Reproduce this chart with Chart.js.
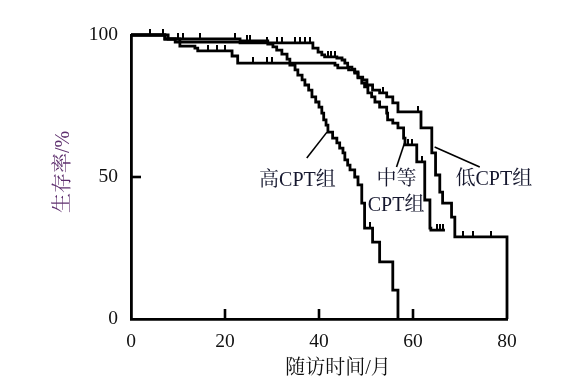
<!DOCTYPE html>
<html><head><meta charset="utf-8">
<script src="https://cdn.jsdelivr.net/npm/chart.js@4.4.0/dist/chart.umd.min.js"></script>
<style>html,body{margin:0;padding:0;background:#fff;}#wrap{width:584px;height:383px;}</style>
</head><body><div id="wrap"><canvas id="c" width="584" height="383"></canvas></div>
<script>
// ---- data (months, survival %) ----
const xTicks = [0, 20, 40, 60, 80];
const yTicks = [0, 50, 100];
const xTitle = '随访时间/月';
const yTitle = '生存率/%';

const highCPT = [[0,100],[7.9,98.6],[23.2,97.9],[29.1,96.8],[30.2,95.8],[31.0,94.7],[32.1,93.3],[33.2,91.5],[33.8,89.4],[34.9,87.7],[35.5,85.9],[36.4,84.2],[37.0,82.4],[37.8,80.6],[38.5,78.2],[39.3,76.4],[40.0,74.6],[40.6,72.5],[41.0,70.1],[41.5,68.3],[41.9,65.8],[42.9,63.7],[43.8,62.0],[44.4,60.2],[45.1,58.5],[45.5,56.0],[46.1,54.2],[46.6,52.5],[47.6,50.0],[48.3,47.2],[49.1,40.8],[49.7,32.0],[51.4,27.1],[52.9,20.1],[55.7,10.2],[56.8,0]];
const midCPT = [[0,100],[7.2,98.6],[10.4,96.1],[13.6,95.4],[14.2,94.4],[21.5,92.6],[22.7,90.1],[43.4,89.4],[44.0,88.4],[46.3,87.7],[47.6,86.6],[48.3,84.9],[49.1,83.1],[49.7,81.7],[50.4,79.6],[51.2,78.2],[51.9,76.4],[52.9,74.6],[54.4,72.5],[54.6,70.1],[55.7,69.0],[56.8,67.3],[58.0,63.7],[58.3,61.3],[60.8,55.3],[62.5,41.9],[63.6,32.0],[63.8,31.3],[66.8,31.3]];
const lowCPT = [[0,100],[7.2,98.6],[9.4,97.5],[23.2,97.2],[38.7,95.4],[39.8,94.0],[40.6,93.0],[41.2,92.3],[43.8,91.9],[44.9,91.2],[45.5,90.1],[46.1,88.7],[47.0,88.0],[47.6,87.0],[48.3,85.2],[49.3,84.2],[50.2,82.4],[51.4,80.6],[52.9,79.6],[54.4,78.2],[55.7,76.1],[56.8,72.9],[61.7,67.3],[64.0,58.5],[64.8,50.7],[65.7,44.7],[66.3,40.8],[68.2,35.9],[68.9,28.9],[80,0]];

// censored observations
const highCens = [[4.0,100],[6.8,100],[10.0,98.6],[11.1,98.6],[14.7,98.6],[22.1,98.6],[24.7,97.9],[25.3,97.9],[50.8,32.0]];
const midCens = [[16.4,94.4],[18.3,94.4],[20.0,94.4],[25.9,90.1],[28.9,90.1],[30.0,90.1],[58.9,61.3],[59.7,61.3],[61.9,55.3],[65.1,31.3],[65.7,31.3],[66.3,31.3]];
const lowCens = [[28.9,97.2],[31.0,97.2],[32.1,97.2],[34.9,97.2],[35.9,97.2],[37.0,97.2],[38.1,97.2],[41.9,92.3],[42.5,92.3],[43.4,92.3],[53.6,79.6],[61.0,72.9],[70.6,28.9],[72.7,28.9],[76.7,28.9]];

// annotation labels (data coordinates)
const annTexts = ['高CPT组', '中等', 'CPT组', '低CPT组'];
const annX = [35.4, 56.5, 56.4, 77.2];
const annY = [48.6, 48.9, 39.8, 48.9];
const leaderFrom = [[37.4,56.7],[56.5,53.5],[74.2,53.5]];
const leaderTo = [[41.7,65.8],[58.2,62.0],[64.6,60.6]];

const toXY = a => a.map(p => ({x: p[0], y: p[1]}));

// censor tick glyph: short vertical stroke above the point
const tick = document.createElement('canvas');
tick.width = 2; tick.height = 12;
const tctx = tick.getContext('2d');
tctx.fillStyle = '#000';
tctx.fillRect(0, 0, 2, 6);

const serif = "'Liberation Serif', 'Times New Roman', 'Noto Serif CJK SC', 'Noto Sans CJK SC', serif";

function lineDs(d){
  return {type:'line', data: toXY(d), stepped: true, borderColor:'#000', borderWidth:2.8,
    pointRadius:0, fill:false, tension:0, clip:6, borderJoinStyle:'miter', borderCapStyle:'butt'};
}
function censDs(d){
  return {type:'scatter', data: toXY(d), pointStyle: tick, pointRadius:6, showLine:false, clip:10};
}

const decor = {
  id:'decor',
  afterDraw(chart){
    const ctx = chart.ctx, xs = chart.scales.x, ys = chart.scales.y, a = chart.chartArea;
    ctx.save();
    ctx.strokeStyle = '#000'; ctx.lineWidth = 2.6; ctx.lineCap='butt';
    // inner ticks
    xTicks.forEach(v => { if (v>xs.min && v<xs.max){ const px = xs.getPixelForValue(v);
      ctx.beginPath(); ctx.moveTo(px, a.bottom); ctx.lineTo(px, a.bottom-10); ctx.stroke(); }});
    yTicks.forEach(v => { if (v>ys.min && v<ys.max){ const py = ys.getPixelForValue(v);
      ctx.beginPath(); ctx.moveTo(a.left, py); ctx.lineTo(a.left+10, py); ctx.stroke(); }});
    // leader lines
    ctx.lineWidth = 1.6;
    leaderFrom.forEach((f,i) => { const t = leaderTo[i];
      ctx.beginPath(); ctx.moveTo(xs.getPixelForValue(f[0]), ys.getPixelForValue(f[1]));
      ctx.lineTo(xs.getPixelForValue(t[0]), ys.getPixelForValue(t[1])); ctx.stroke(); });
    // annotation texts
    ctx.fillStyle = '#15172e';
    ctx.font = '20px ' + serif;
    ctx.textAlign = 'center'; ctx.textBaseline = 'middle';
    annTexts.forEach((t,i) => ctx.fillText(t, xs.getPixelForValue(annX[i]), ys.getPixelForValue(annY[i])));
    // axis titles
    ctx.fillStyle = '#111';
    ctx.fillText(xTitle, 338, 369);
    ctx.fillStyle = '#5e2f6e';
    ctx.translate(64, 172); ctx.rotate(-Math.PI/2);
    ctx.fillText(yTitle, 0, 0);
    ctx.restore();
  }
};

new Chart(document.getElementById('c'), {
  data: { datasets: [lineDs(highCPT), lineDs(midCPT), lineDs(lowCPT), censDs(highCens), censDs(midCens), censDs(lowCens)] },
  options: {
    responsive:false, animation:false, devicePixelRatio:1,
    layout:{ padding:{ left:0, right:77, top:35, bottom:0 } },
    plugins:{ legend:{display:false}, tooltip:{enabled:false} },
    scales:{
      x:{ type:'linear', min:0, max:80,
        afterBuildTicks: s => { s.ticks = xTicks.map(v => ({value:v})); },
        afterFit: s => { s.height = 64; },
        grid:{display:false, drawTicks:false},
        border:{display:true, color:'#000', width:2.8},
        ticks:{ color:'#111', font:{family:serif, size:19.5}, padding:11, maxRotation:0 } },
      y:{ type:'linear', min:0, max:100,
        afterBuildTicks: s => { s.ticks = yTicks.map(v => ({value:v})); },
        afterFit: s => { s.width = 131; },
        grid:{display:false, drawTicks:false},
        border:{display:true, color:'#000', width:2.8},
        ticks:{ color:'#111', font:{family:serif, size:19.5}, padding:13 } }
    }
  },
  plugins:[decor]
});
</script></body></html>
